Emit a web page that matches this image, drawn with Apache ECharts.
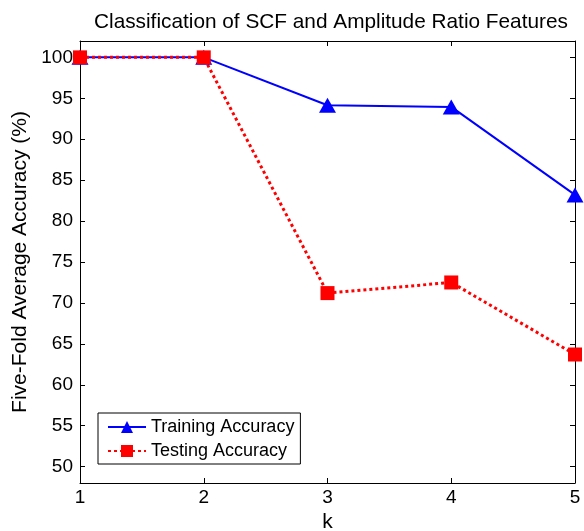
<!DOCTYPE html>
<html>
<head>
<meta charset="utf-8">
<script src="https://cdn.jsdelivr.net/npm/echarts@6/dist/echarts.min.js"></script>
<style>html,body{margin:0;padding:0;background:#fff;}#c{width:584px;height:531px;}</style>
</head>
<body>
<div id="c"></div>
<script>
var kValues = [1, 2, 3, 4, 5];
var trainingAccuracy = [100, 100, 94.15, 93.95, 83.2];
var testingAccuracy = [100, 100, 71.2, 72.5, 63.7];
var yTicks = [50, 55, 60, 65, 70, 75, 80, 85, 90, 95, 100];
var titleText = 'Classification of SCF and Amplitude Ratio Features';
var FONT = 'Liberation Sans';

var chart = echarts.init(document.getElementById('c'), null, {renderer: 'canvas'});
function pairs(xs, ys) { return xs.map(function (x, i) { return [x, ys[i]]; }); }
var axisBase = {
  axisLine: {show: true, onZero: false, lineStyle: {color: '#000', width: 1}},
  splitLine: {show: false}
};
chart.setOption({
  animation: false,
  backgroundColor: '#fff',
  title: {
    text: titleText, left: 89, top: 7,
    textStyle: {fontFamily: FONT, fontSize: 20.8, fontWeight: 'normal', color: '#000'}
  },
  grid: {left: 80, right: 9, top: 41, bottom: 48, containLabel: false, outerBoundsMode: 'none'},
  legend: {
    orient: 'vertical', left: 98, top: 413,
    backgroundColor: '#fff', borderColor: '#000', borderWidth: 1,
    padding: [5, 6, 4, 9], itemGap: 6, itemWidth: 38, itemHeight: 15,
    textStyle: {fontFamily: FONT, fontSize: 18, color: '#000'},
    data: ['Training Accuracy', 'Testing Accuracy']
  },
  xAxis: [
    Object.assign({}, axisBase, {
      type: 'value', min: 1, max: 5, interval: 1, position: 'bottom',
      name: 'k', nameLocation: 'middle', nameGap: 25,
      nameTextStyle: {fontFamily: FONT, fontSize: 21, color: '#000'},
      axisTick: {show: true, inside: true, length: 5, lineStyle: {color: '#000'}},
      axisLabel: {fontFamily: FONT, fontSize: 19, color: '#000', margin: 5}
    }),
    Object.assign({}, axisBase, {
      type: 'value', min: 1, max: 5, interval: 1, position: 'top',
      axisTick: {show: true, inside: true, length: 5, lineStyle: {color: '#000'}},
      axisLabel: {show: false}
    })
  ],
  yAxis: [
    Object.assign({}, axisBase, {
      type: 'value', min: 48, max: 102, position: 'left',
      name: 'Five-Fold Average Accuracy (%)', nameLocation: 'middle', nameGap: 41,
      nameTextStyle: {fontFamily: FONT, fontSize: 21, color: '#000'},
      axisTick: {show: true, inside: true, length: 5, customValues: yTicks, lineStyle: {color: '#000'}},
      axisLabel: {fontFamily: FONT, fontSize: 19, color: '#000', margin: 7, customValues: yTicks}
    }),
    Object.assign({}, axisBase, {
      type: 'value', min: 48, max: 102, position: 'right',
      axisTick: {show: true, inside: true, length: 5, customValues: yTicks, lineStyle: {color: '#000'}},
      axisLabel: {show: false, customValues: yTicks}
    })
  ],
  series: [
    {
      name: 'Training Accuracy', type: 'line', xAxisIndex: 0, yAxisIndex: 0,
      data: pairs(kValues, trainingAccuracy),
      symbol: 'triangle', symbolSize: [17, 15],
      itemStyle: {color: '#0000ff'},
      lineStyle: {color: '#0000ff', width: 2, type: 'solid'}
    },
    {
      name: 'Testing Accuracy', type: 'line', xAxisIndex: 0, yAxisIndex: 0,
      data: pairs(kValues, testingAccuracy),
      symbol: 'rect', symbolSize: 14,
      itemStyle: {color: '#ff0000'},
      lineStyle: {color: '#ff0000', width: 3, type: [3, 3]}
    }
  ]
});
</script>
</body>
</html>
